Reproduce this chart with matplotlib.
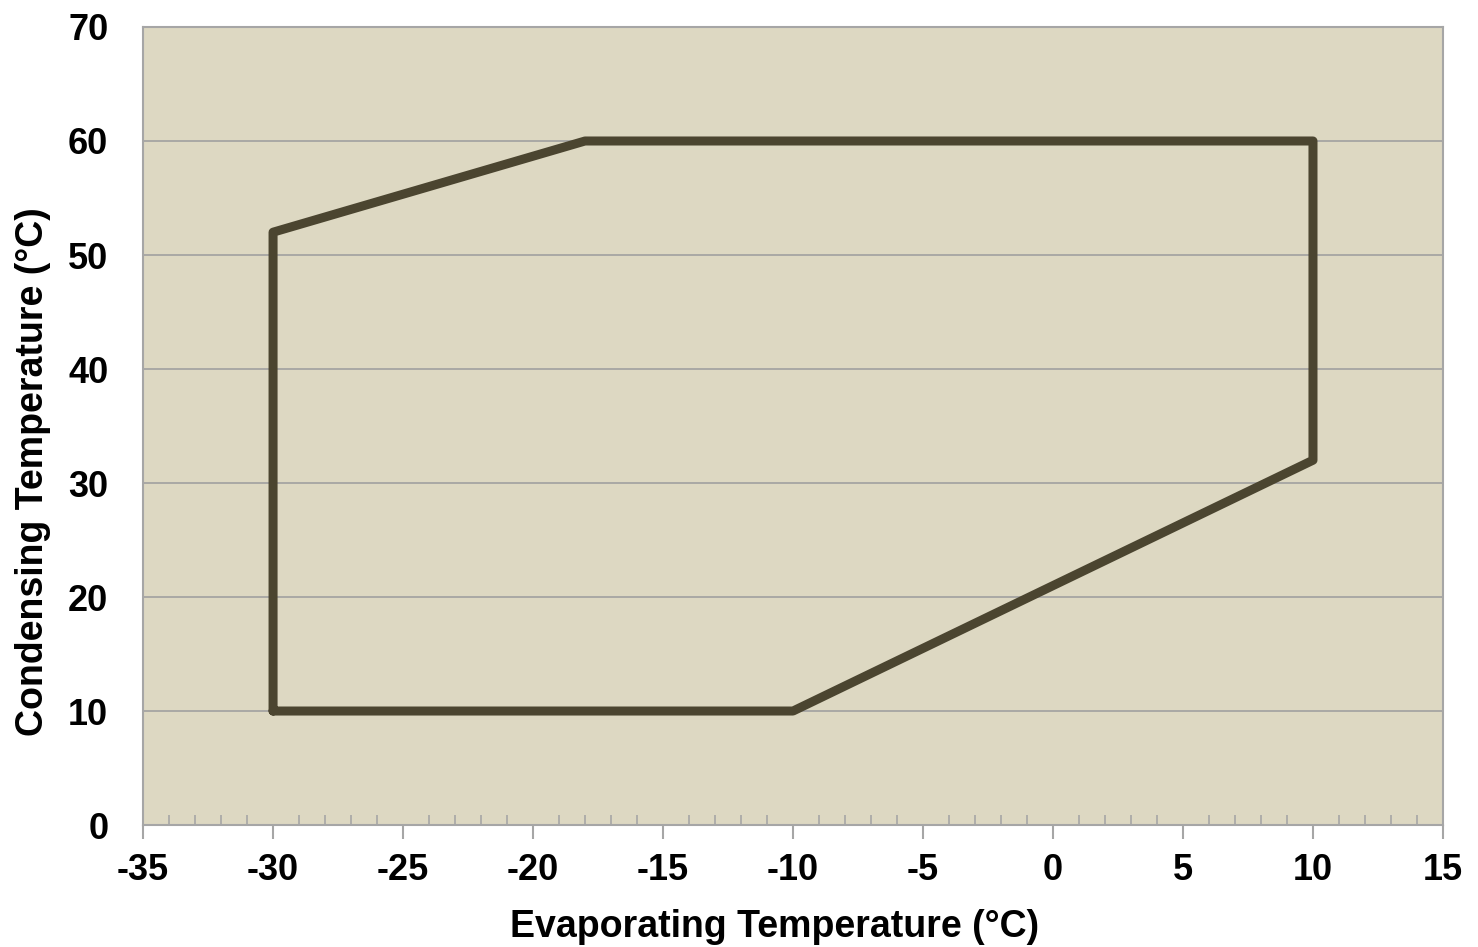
import matplotlib
matplotlib.use("Agg")
import matplotlib.pyplot as plt
from matplotlib.ticker import MultipleLocator

evap = [-30, -30, -18, 10, 10, -10, -30]
cond = [10, 52, 60, 60, 32, 10, 10]
x_ticks = [-35, -30, -25, -20, -15, -10, -5, 0, 5, 10, 15]
y_ticks = [0, 10, 20, 30, 40, 50, 60, 70]

plt.rcParams['font.family'] = ['Liberation Sans', 'DejaVu Sans']
plt.rcParams['font.weight'] = 'bold'
plt.rcParams['axes.unicode_minus'] = False

fig = plt.figure(figsize=(14.78, 9.47), dpi=100)
ax = fig.add_axes([0.0968, 0.1288, 0.8795, 0.8427])
ax.set_facecolor('#DDD8C2')
ax.set_xlim(-35, 15)
ax.set_ylim(0, 70)
ax.set_xticks(x_ticks)
ax.set_yticks(y_ticks)
ax.xaxis.set_minor_locator(MultipleLocator(1))
ax.grid(axis='y', color='#A0A0A0', linewidth=1.2)
ax.set_axisbelow(True)
for s in ax.spines.values():
    s.set_color('#A6A6A6')
    s.set_linewidth(1.5)
ax.tick_params(axis='x', which='major', direction='out', length=10, width=1.5, color='#A6A6A6',
               labelsize=26, pad=10)
ax.tick_params(axis='x', which='minor', direction='in', length=7, width=1.2, color='#A6A6A6')
ax.tick_params(axis='y', which='major', length=0, labelsize=26, pad=25)
for lbl in ax.get_xticklabels() + ax.get_yticklabels():
    lbl.set_fontweight('bold')

ax.plot(evap, cond, color='#4B4530', linewidth=6.5, solid_joinstyle='round', solid_capstyle='round')

ax.set_xlabel('Evaporating Temperature (°C)', fontsize=27, fontweight='bold', labelpad=15)
ax.set_ylabel('Condensing Temperature (°C)', fontsize=27, fontweight='bold')
ax.xaxis.label.set_x(0.486)
ax.yaxis.set_label_coords(-0.0708, 0.443)

fig.savefig('out.png', dpi=100)
